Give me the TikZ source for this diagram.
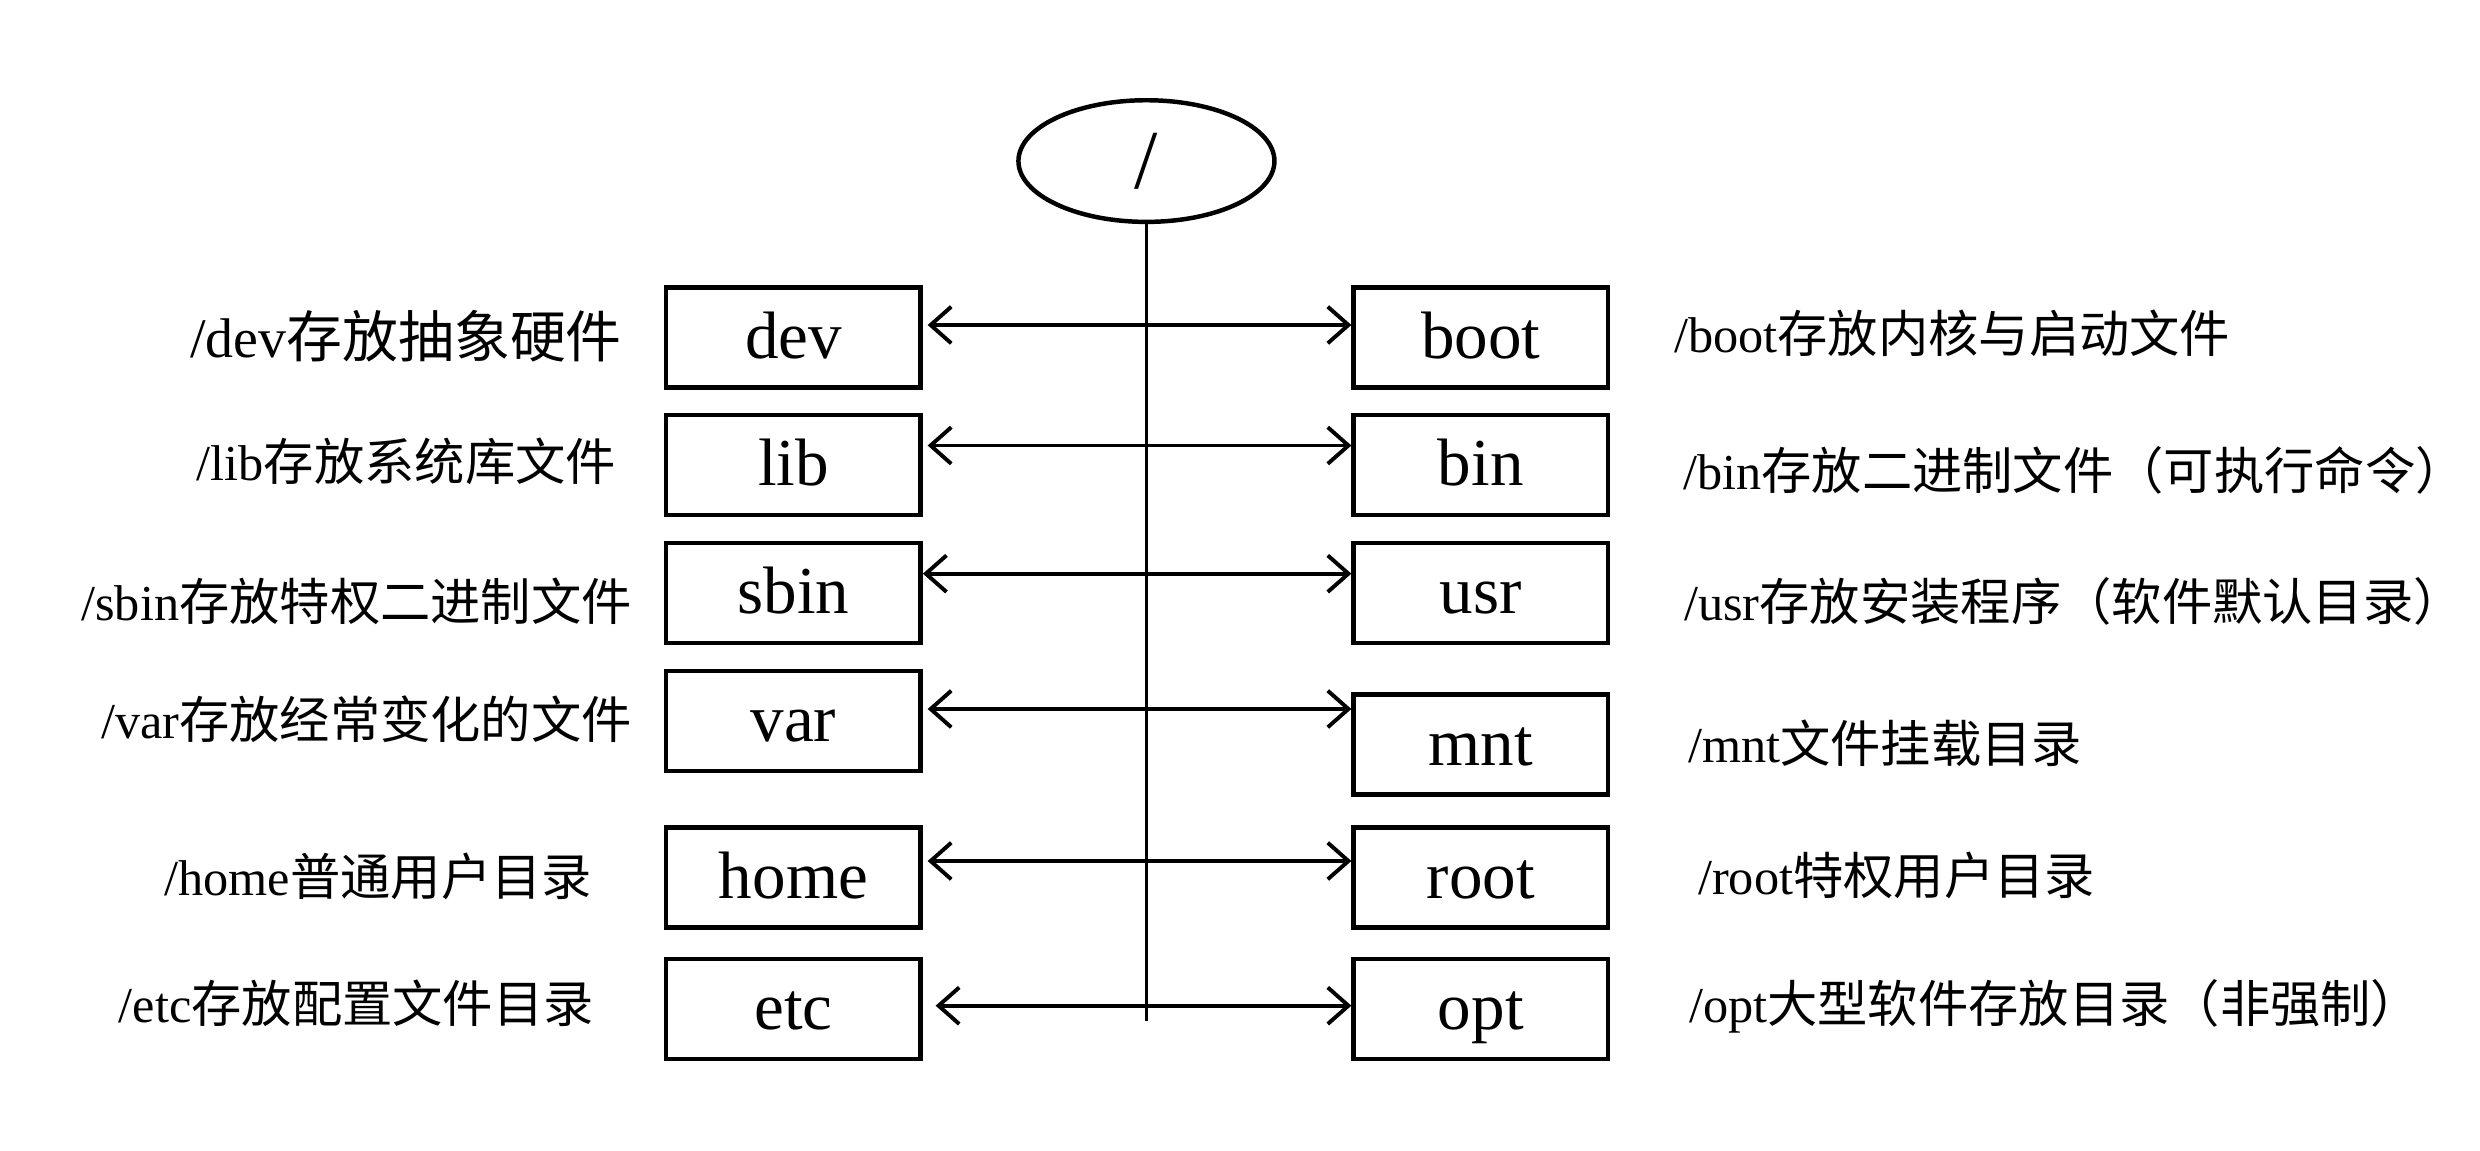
\documentclass[tikz,border=0pt]{standalone}
\usepackage{fontspec}
\setmainfont{Liberation Serif}
\newfontfamily\cjk{Noto Sans CJK SC}
\usetikzlibrary{arrows.meta,shapes.geometric}

\begin{document}
\begin{tikzpicture}[
  dirbox/.style={draw, line width=0.8pt, minimum width=1.6cm, minimum height=0.63cm, inner sep=0pt, text height=0.85em, text depth=0.11em, font=\fontsize{12}{14}\selectfont},
  note/.style={inner sep=0pt, font=\fontsize{9}{11}\selectfont},
  link/.style={line width=0.7pt, {Straight Barb[length=1.3mm,width=2.3mm]}-{Straight Barb[length=1.3mm,width=2.3mm]}}
]
\useasboundingbox (0,0) rectangle (15.597,7.233);
% root of the tree
\draw node(top)[ellipse, draw, line width=0.8pt, minimum width=1.61cm, minimum height=0.765cm, inner sep=0pt] at (7.21,6.22) {\fontsize{15}{18}\selectfont /};
\coordinate (trunk) at (7.21,0.81);
\draw[line width=0.6pt] (top) -- (trunk);
% left column
\draw node(dev)[dirbox] at (4.99,5.11) {dev};
\draw node(lib)[dirbox] at (4.99,4.308) {lib};
\draw node(sbin)[dirbox] at (4.99,3.504) {sbin};
\draw node(var)[dirbox] at (4.99,2.698) {var};
\draw node(home)[dirbox] at (4.99,1.714) {home};
\draw node(etc)[dirbox] at (4.99,0.887) {etc};
% right column
\draw node(boot)[dirbox] at (9.313,5.11) {boot};
\draw node(bin)[dirbox] at (9.313,4.308) {bin};
\draw node(usr)[dirbox] at (9.313,3.504) {usr};
\draw node(mnt)[dirbox] at (9.313,2.55) {mnt};
\draw node(root)[dirbox] at (9.313,1.714) {root};
\draw node(opt)[dirbox] at (9.313,0.887) {opt};
% notes
\draw node(devn)[note, anchor=east, font=\fontsize{10}{12}\selectfont] at (3.918,5.119) {/dev{\cjk 存放抽象硬件}};
\draw node(libn)[note, anchor=east] at (3.881,4.333) {/lib{\cjk 存放系统库文件}};
\draw node(sbinn)[note, anchor=east] at (3.981,3.453) {/sbin{\cjk 存放特权二进制文件}};
\draw node(varn)[note, anchor=east] at (3.981,2.711) {/var{\cjk 存放经常变化的文件}};
\draw node(homen)[note, anchor=east] at (3.730,1.723) {/home{\cjk 普通用户目录}};
\draw node(etcn)[note, anchor=east] at (3.742,0.925) {/etc{\cjk 存放配置文件目录}};
\draw node(bootn)[note, anchor=west] at (10.522,5.138) {/boot{\cjk 存放内核与启动文件}};
\draw node(binn)[note, anchor=west] at (10.579,4.277) {/bin{\cjk 存放二进制文件（可执行命令）}};
\draw node(usrn)[note, anchor=west] at (10.585,3.453) {/usr{\cjk 存放安装程序（软件默认目录）}};
\draw node(mntn)[note, anchor=west] at (10.610,2.560) {/mnt{\cjk 文件挂载目录}};
\draw node(rootn)[note, anchor=west] at (10.673,1.730) {/root{\cjk 特权用户目录}};
\draw node(optn)[note, anchor=west] at (10.616,0.906) {/opt{\cjk 大型软件存放目录（非强制）}};
% arrows
\draw[link] ([xshift=0.03cm, yshift=0.079cm]dev.east) -- ([yshift=0.079cm]boot.west);
\draw[link] ([xshift=0.03cm, yshift=0.123cm]lib.east) -- ([yshift=0.123cm]bin.west);
\draw[link] ([yshift=0.121cm]sbin.east) -- ([yshift=0.121cm]usr.west);
\draw[link] ([xshift=0.03cm, yshift=0.076cm]var.east) -- ([yshift=0.224cm]mnt.west);
\draw[link] ([xshift=0.03cm, yshift=0.104cm]home.east) -- ([yshift=0.104cm]root.west);
\draw[link] ([xshift=0.08cm, yshift=0.021cm]etc.east) -- ([yshift=0.021cm]opt.west);
\end{tikzpicture}
\end{document}
